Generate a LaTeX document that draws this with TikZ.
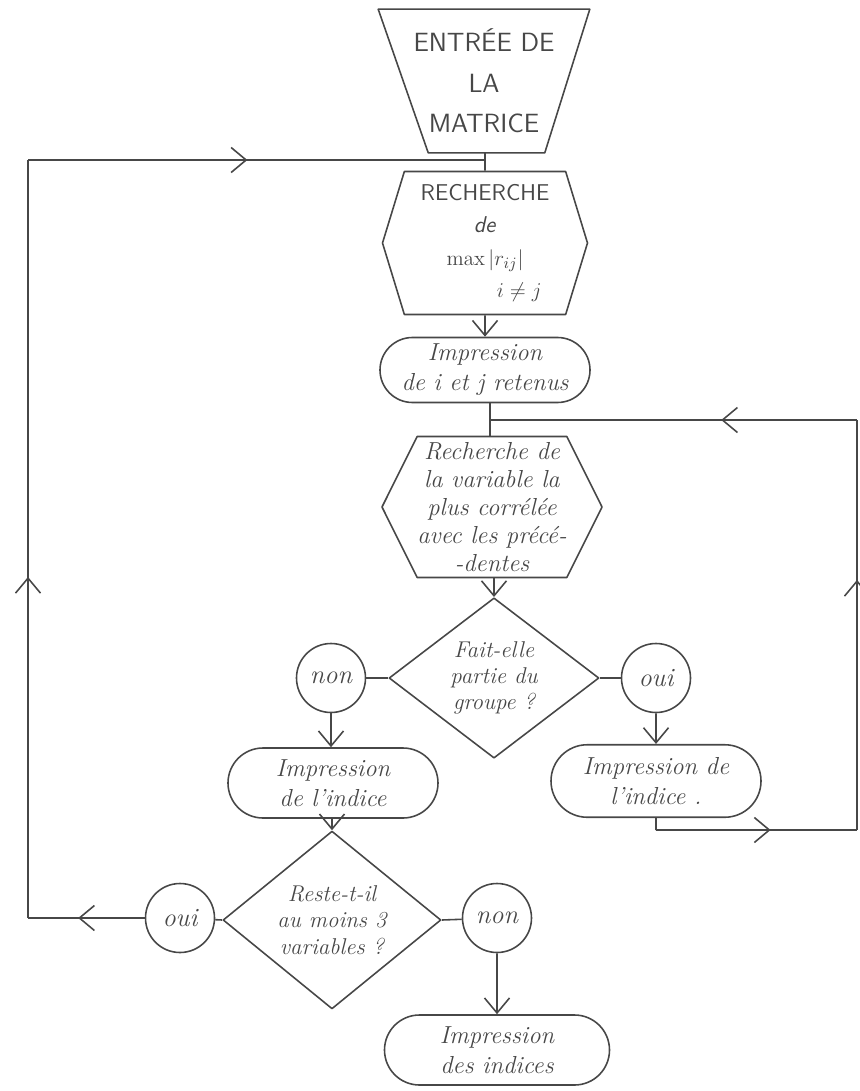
\documentclass[tikz,border=0pt]{standalone}
\usepackage{amsmath,amssymb}
\usepackage{xcolor}
\usepackage{tikz}
\usetikzlibrary{arrows.meta,shapes.geometric,shapes.misc,shapes.symbols,decorations.markings,positioning,calc}
\colorlet{pencil}{black!72}

\begin{document}
\begin{tikzpicture}[x=0.2mm, y=-0.2mm, >={Straight Barb[length=3mm,width=5mm]}, line join=round,
  box/.style={draw=pencil, line width=0.9pt, text=pencil, inner sep=0pt, align=center,
    font=\itshape\fontsize{14}{17}\selectfont},
  entry/.style={box, draw=none, rectangle, minimum width=42mm,
    minimum height=28.4mm, font=\sffamily\fontsize{15}{23}\selectfont},
  hexa/.style={box, signal, signal to=west and east},
  printbox/.style={box, rounded rectangle, minimum width=42mm, minimum height=13mm},
  test/.style={box, diamond, minimum width=42mm, minimum height=30mm,
    font=\itshape\fontsize{13}{15}\selectfont},
  answer/.style={box, circle, minimum size=13.8mm, font=\itshape\fontsize{15}{17}\selectfont},
  line/.style={pencil, line width=0.9pt},
  midarrow/.style={postaction={decorate, decoration={markings,
    mark=at position #1 with {\arrow{Straight Barb[length=3mm,width=5mm]}}}}}]
\useasboundingbox (0,0) rectangle (860,1091);

% colonne centrale
\node[entry] (entree) at (484,81) {ENTRÉE DE\\ LA\\ MATRICE};
\draw[line] (entree.north west) -- (entree.north east) -- ($(entree.south east)+(-45,0)$)
  -- ($(entree.south west)+(50,0)$) -- cycle;
\node[hexa, signal pointer angle=146, minimum width=41mm, minimum height=28.6mm,
  font=\sffamily\fontsize{13}{18.5}\selectfont] (rech1) at (485,243)
  {RECHERCHE\\ \textit{de}\\ $\max|r_{ij}|$\\ \hspace*{3em}$i\neq j$};
\node[printbox] (imp1) at (485,370) {Impression\\ de i et j retenus};
\node[hexa, signal pointer angle=127, minimum width=44mm, minimum height=28.2mm,
  font=\itshape\fontsize{14}{16}\selectfont] (rech2) at (492,507)
  {Recherche de\\ la variable la\\ plus corrélée\\ avec les précé-\\ -dentes};
\node[test] (q1) at (494,678) {Fait-elle\\ partie du\\ groupe ?};

% branches du premier test
\node[answer] (non1) at (331,678) {non};
\node[answer] (oui1) at (656,678) {oui};
\node[printbox, minimum height=14mm] (impA) at (333,783) {Impression\\ de l'indice};
\node[printbox, minimum height=14.5mm] (impB) at (656,781) {Impression de\\ l'indice .};

% second test
\node[test, minimum width=43.6mm, minimum height=30.4mm] (q2) at (332,920) {Reste-t-il\\ au moins 3\\ variables ?};
\node[answer] (oui2) at (180,918) {oui};
\node[answer] (non2) at (497,918) {non};
\node[printbox, minimum width=45mm, minimum height=14mm] (fin) at (497,1050) {Impression\\ des indices};

% points des boucles
\coordinate (jtop) at (485,160);
\coordinate (ctl) at (28,160);
\coordinate (cbl) at (28,918);
\coordinate (jmid) at (490,420);
\coordinate (ctr) at (857,420);
\coordinate (cbr) at (857,830);
\coordinate (cbB) at (impB.south |- cbr);

% liaisons
\draw[line] (entree.south -| rech1) -- (rech1);
\draw[line, ->] (rech1) -- (imp1);
\draw[line] (imp1.south -| jmid) -- (jmid |- rech2.north);
\draw[line, ->] (rech2.south -| q1) -- (q1);
\draw[line] (q1.west) -- (non1);
\draw[line] (q1.east) -- (oui1);
\draw[line, ->] (non1) -- (non1 |- impA.north);
\draw[line, ->] (oui1) -- (impB);
\draw[line, ->] (impA.south -| q2) -- (q2);
\draw[line] (q2.west) -- (oui2);
\draw[line] (q2.east) -- (non2);
\draw[line, ->] (non2) -- (fin);

% boucle gauche
\draw[line, midarrow=0.57] (oui2) -- (cbl);
\draw[line, midarrow=0.45] (cbl) -- (ctl);
\draw[line, midarrow=0.48] (ctl) -- (jtop);

% boucle droite
\draw[line] (impB) -- (cbB);
\draw[line, midarrow=0.57] (cbB) -- (cbr);
\draw[line, midarrow=0.61] (cbr) -- (ctr);
\draw[line, midarrow=0.37] (ctr) -- (jmid);
\end{tikzpicture}
\end{document}
